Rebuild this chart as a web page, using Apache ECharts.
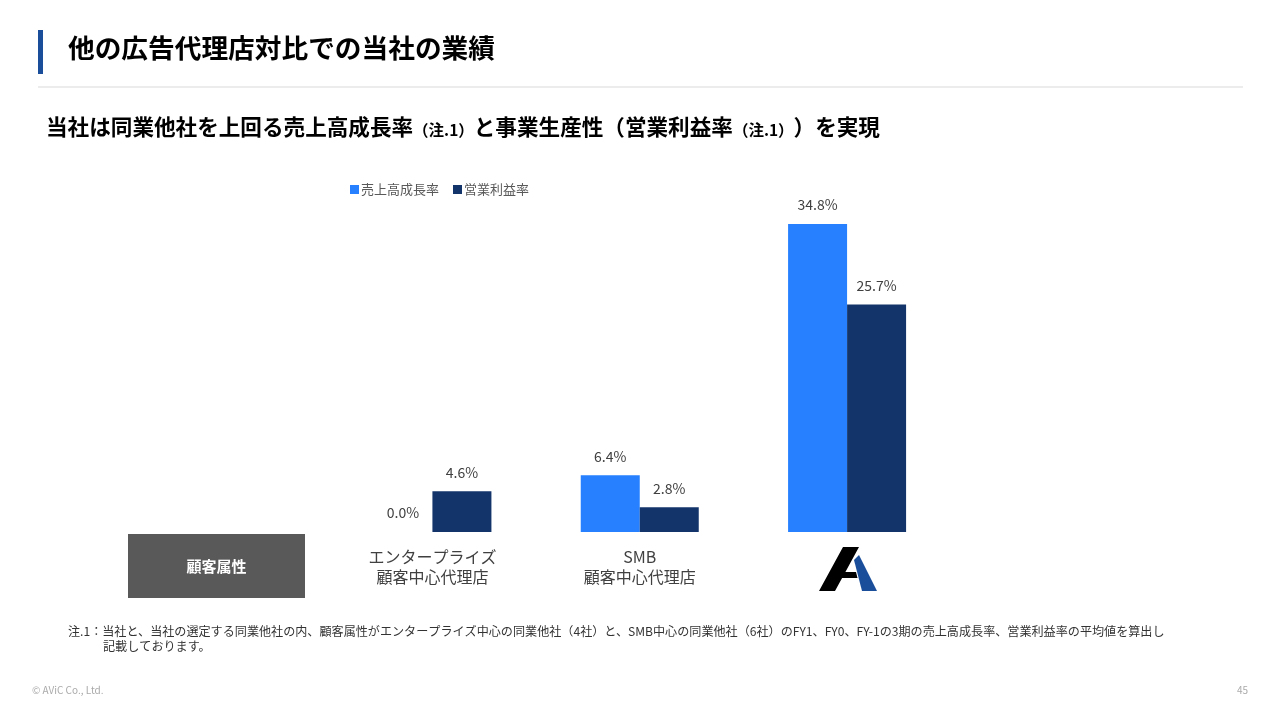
<!DOCTYPE html>
<html>
<head>
<meta charset="utf-8">
<script src="https://cdn.jsdelivr.net/npm/echarts@6/dist/echarts.min.js"></script>
<style>
html,body{margin:0;padding:0;background:#fff;}
#main{width:1280px;height:720px;}
</style>
</head>
<body>
<div id="main"></div>
<script>
const categories = ['エンタープライズ\n顧客中心代理店', 'SMB\n顧客中心代理店', ''];
const seriesNames = ['売上高成長率', '営業利益率'];
const growthRate = [0.0, 6.4, 34.8];
const operatingMargin = [4.6, 2.8, 25.7];

const FONT = '"Noto Sans CJK JP", "Noto Sans", sans-serif';
const chart = echarts.init(document.getElementById('main'));

const labelCfg = {
  show: true, position: 'top', distance: 12,
  color: '#404040', fontSize: 14, fontFamily: FONT,
  formatter: p => p.value.toFixed(1) + '%'
};

chart.setOption({
  backgroundColor: '#fff',
  textStyle: { fontFamily: FONT },
  animation: false,
  legend: {
    left: 345, top: 178,
    icon: 'rect', itemWidth: 9, itemHeight: 9, itemGap: 14,
    textStyle: { color: '#595959', fontSize: 13, fontFamily: FONT, padding: [0, 0, 0, -3] },
    data: seriesNames
  },
  grid: { left: 328.75, right: 329.25, top: 178, bottom: 188, containLabel: false },
  xAxis: {
    type: 'category', data: categories,
    axisLine: { show: false }, axisTick: { show: false },
    axisLabel: { color: '#404040', fontSize: 16, lineHeight: 20, margin: 15, fontFamily: FONT, interval: 0 }
  },
  yAxis: {
    type: 'value', min: 0, max: 40, show: false,
    splitLine: { show: false }
  },
  series: [
    { name: seriesNames[0], type: 'bar', data: growthRate, barWidth: 59, barGap: '0%',
      itemStyle: { color: '#2680ff' }, label: labelCfg },
    { name: seriesNames[1], type: 'bar', data: operatingMargin, barWidth: 59, barGap: '0%',
      itemStyle: { color: '#13346b' }, label: labelCfg }
  ],
  graphic: [
    { type: 'rect', shape: { x: 38, y: 30, width: 5, height: 44 }, style: { fill: '#1a4e9a' } },
    { type: 'text', left: 68, top: 35, style: { text: '他の広告代理店対比での当社の業績', fontSize: 26.7, fontWeight: 'bold', fill: '#000', fontFamily: FONT } },
    { type: 'rect', shape: { x: 38, y: 86.5, width: 1205, height: 1 }, style: { fill: '#d9d9d9' } },
    { type: 'text', left: 46, top: 116, style: {
        text: '{b|当社は同業他社を上回る売上高成長率}{s|（注.1）}{b|と事業生産性（営業利益率}{s|（注.1）}{b|）を実現}',
        fontFamily: FONT,
        rich: {
          b: { fontSize: 21.6, fontWeight: 'bold', fill: '#000', fontFamily: FONT, verticalAlign: 'bottom', lineHeight: 28 },
          s: { fontSize: 15.5, fontWeight: 'bold', fill: '#000', fontFamily: FONT, verticalAlign: 'bottom', lineHeight: 26 }
        } } },
    { type: 'rect', shape: { x: 128, y: 534, width: 177, height: 64 }, style: { fill: '#595959' } },
    { type: 'text', x: 216.5, y: 566, style: { text: '顧客属性', fontSize: 15, fontWeight: 'bold', fill: '#fff', align: 'center', verticalAlign: 'middle', fontFamily: FONT } },
    { type: 'polygon', shape: { points: [[843,547],[859,547],[845.4,572],[856,572],[857.5,578],[842.1,578],[835,591],[819,591]] }, style: { fill: '#000' } },
    { type: 'polygon', shape: { points: [[854,560],[859,555],[877,591],[862,591]] }, style: { fill: '#1a4e9a' } },
    { type: 'text', left: 68, top: 625, style: { text: '注.1：当社と、当社の選定する同業他社の内、顧客属性がエンタープライズ中心の同業他社（4社）と、SMB中心の同業他社（6社）のFY1、FY0、FY-1の3期の売上高成長率、営業利益率の平均値を算出し', fontSize: 12.1, fill: '#333', fontFamily: FONT } },
    { type: 'text', left: 103, top: 640, style: { text: '記載しております。', fontSize: 12.1, fill: '#333', fontFamily: FONT } },
    { type: 'text', left: 32, top: 685, style: { text: '© AViC Co., Ltd.', fontSize: 10, fill: '#aaaaaa', fontFamily: FONT } },
    { type: 'text', x: 1248, y: 685, style: { text: '45', fontSize: 10, fill: '#aaaaaa', align: 'right', fontFamily: FONT } }
  ]
});
</script>
</body>
</html>
